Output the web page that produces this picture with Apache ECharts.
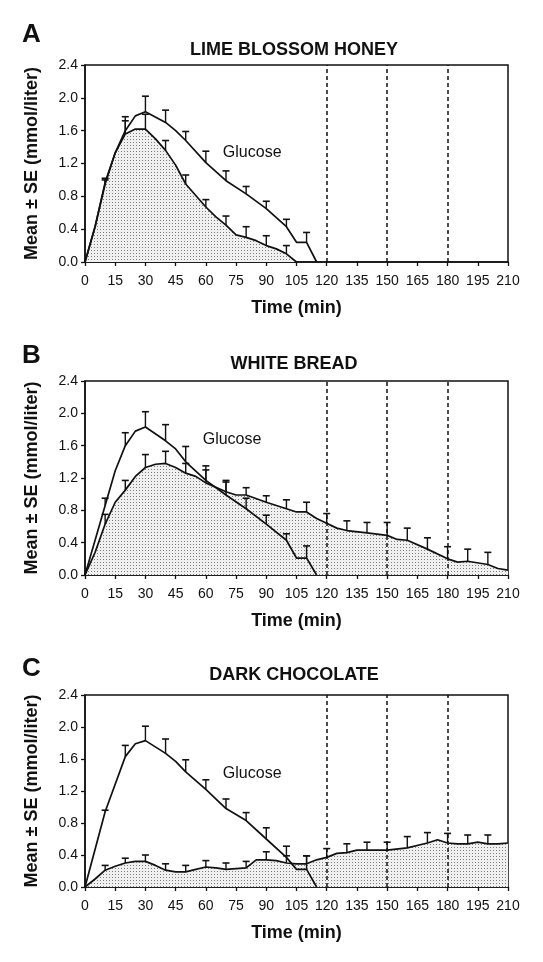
<!DOCTYPE html>
<html>
<head>
<meta charset="utf-8">
<script src="https://cdn.jsdelivr.net/npm/echarts@6/dist/echarts.min.js"></script>
<style>
html,body{margin:0;padding:0;background:#fff;}
#chart{width:543px;height:962px;}
</style>
</head>
<body>
<div id="chart"></div>
<script>
// ---------- DATA ----------
var panelLetters = ['A', 'B', 'C'];
var panelTitles = ['LIME BLOSSOM HONEY', 'WHITE BREAD', 'DARK CHOCOLATE'];
var xTicks = [0, 15, 30, 45, 60, 75, 90, 105, 120, 135, 150, 165, 180, 195, 210];
var yTicks = [0.0, 0.4, 0.8, 1.2, 1.6, 2.0, 2.4];
var dashedTimes = [120, 150, 180];
var errTimesGlucose = [10, 20, 30, 40, 50, 60, 70, 80, 90, 100, 110];

// Panel A - glucose reference
var glucoseA_t = [0, 5, 10, 15, 20, 25, 30, 40, 45, 50, 60, 70, 80, 90, 100, 105, 110, 115];
var glucoseA_v = [0, 0.43, 0.95, 1.33, 1.60, 1.78, 1.83, 1.70, 1.60, 1.48, 1.21, 0.99, 0.83, 0.65, 0.43, 0.24, 0.24, 0];
var glucoseA_upper = [1.00, 1.77, 2.02, 1.85, 1.59, 1.35, 1.11, 0.92, 0.74, 0.52, 0.36];
// Panel A - lime blossom honey
var honey_t = [0, 5, 10, 15, 20, 25, 30, 35, 40, 45, 50, 55, 60, 65, 70, 75, 80, 85, 90, 95, 100, 105];
var honey_v = [0, 0.43, 0.97, 1.33, 1.56, 1.62, 1.62, 1.50, 1.36, 1.18, 0.95, 0.81, 0.67, 0.55, 0.45, 0.33, 0.30, 0.26, 0.20, 0.16, 0.10, 0];
var honeyErr_t = [10, 20, 30, 40, 50, 60, 70, 80, 90, 100];
var honey_upper = [1.02, 1.72, 1.80, 1.48, 1.06, 0.76, 0.56, 0.43, 0.32, 0.20];

// Panel B - glucose reference
var glucoseB_t = [0, 10, 15, 20, 25, 30, 40, 45, 50, 60, 70, 80, 90, 100, 105, 110, 115];
var glucoseB_v = [0, 0.86, 1.29, 1.60, 1.78, 1.83, 1.66, 1.56, 1.40, 1.17, 0.99, 0.82, 0.63, 0.43, 0.21, 0.21, 0];
var glucoseB_upper = [0.95, 1.76, 2.02, 1.86, 1.59, 1.35, 1.15, 0.95, 0.74, 0.51, 0.36];
// Panel B - white bread
var bread_t = [0, 5, 10, 15, 20, 25, 30, 35, 40, 45, 50, 55, 60, 70, 75, 80, 90, 100, 105, 110, 115, 120, 125, 130, 140, 150, 155, 160, 170, 180, 185, 190, 200, 205, 210];
var bread_v = [0, 0.28, 0.63, 0.90, 1.05, 1.22, 1.33, 1.37, 1.38, 1.33, 1.26, 1.22, 1.14, 1.03, 0.99, 0.99, 0.90, 0.82, 0.78, 0.78, 0.70, 0.64, 0.58, 0.55, 0.52, 0.49, 0.44, 0.43, 0.32, 0.20, 0.16, 0.17, 0.13, 0.08, 0.06];
var breadErr_t = [10, 20, 30, 40, 50, 60, 70, 80, 90, 100, 110, 120, 130, 140, 150, 160, 170, 180, 190, 200];
var bread_upper = [0.75, 1.17, 1.49, 1.53, 1.38, 1.30, 1.17, 1.08, 0.98, 0.93, 0.90, 0.76, 0.67, 0.65, 0.65, 0.58, 0.46, 0.35, 0.32, 0.28];

// Panel C - glucose reference
var glucoseC_t = [0, 10, 20, 25, 30, 40, 45, 50, 60, 70, 80, 90, 100, 105, 110, 115];
var glucoseC_v = [0, 0.94, 1.63, 1.79, 1.83, 1.67, 1.57, 1.44, 1.22, 0.98, 0.83, 0.60, 0.37, 0.22, 0.22, 0];
var glucoseC_upper = [0.96, 1.77, 2.01, 1.85, 1.59, 1.34, 1.10, 0.93, 0.74, 0.51, 0.39];
// Panel C - dark chocolate
var choc_t = [0, 5, 10, 15, 20, 25, 30, 35, 40, 45, 50, 55, 60, 65, 70, 75, 80, 85, 90, 95, 100, 105, 110, 115, 120, 125, 130, 135, 140, 150, 160, 170, 175, 180, 185, 190, 195, 200, 205, 210];
var choc_v = [0, 0.10, 0.21, 0.26, 0.30, 0.32, 0.32, 0.27, 0.21, 0.19, 0.19, 0.22, 0.25, 0.24, 0.22, 0.23, 0.24, 0.34, 0.34, 0.33, 0.30, 0.29, 0.29, 0.34, 0.37, 0.42, 0.43, 0.46, 0.46, 0.46, 0.49, 0.55, 0.59, 0.55, 0.54, 0.54, 0.56, 0.54, 0.54, 0.55];
var chocErr_t = [10, 20, 30, 40, 50, 60, 70, 80, 90, 100, 110, 120, 130, 140, 150, 160, 170, 180, 190, 200];
var choc_upper = [0.27, 0.36, 0.40, 0.29, 0.27, 0.33, 0.30, 0.32, 0.44, 0.39, 0.39, 0.48, 0.54, 0.56, 0.56, 0.63, 0.68, 0.67, 0.65, 0.65];

var glucoseLabelPos = [[83, 1.33], [73, 1.67], [83, 1.42]];

// ---------- BUILD ----------
var FONT = '"Liberation Sans", Arial, Helvetica, sans-serif';
var chart = echarts.init(document.getElementById('chart'), null, {renderer: 'canvas'});

function makePattern() {
  var c = document.createElement('canvas');
  c.width = 3; c.height = 3;
  var g = c.getContext('2d');
  g.fillStyle = '#f0f0f0';
  g.fillRect(0, 0, 3, 3);
  g.fillStyle = '#7d7d7d';
  g.fillRect(1, 1, 1, 1);
  return c;
}
var pattern = {image: makePattern(), repeat: 'repeat'};

function zip(t, v) { return t.map(function (x, i) { return [x, v[i]]; }); }
function errData(t, v, et, up) {
  return et.map(function (x, i) {
    var idx = t.indexOf(x);
    return [x, v[idx], up[i]];
  });
}

var grids = [
  {left: 85, top: 65, width: 423, height: 197},
  {left: 85, top: 381, width: 423, height: 194},
  {left: 85, top: 695, width: 423, height: 192}
];
var letterY = [35, 356, 669];
var titleY = [50, 364, 675];

var panels = [
  {gt: glucoseA_t, gv: glucoseA_v, gu: glucoseA_upper, ft: honey_t, fv: honey_v, fet: honeyErr_t, fu: honey_upper},
  {gt: glucoseB_t, gv: glucoseB_v, gu: glucoseB_upper, ft: bread_t, fv: bread_v, fet: breadErr_t, fu: bread_upper},
  {gt: glucoseC_t, gv: glucoseC_v, gu: glucoseC_upper, ft: choc_t, fv: choc_v, fet: chocErr_t, fu: choc_upper}
];

function renderErr(params, api) {
  var x = api.value(0), m = api.value(1), u = api.value(2);
  var p0 = api.coord([x, m]);
  var p1 = api.coord([x, u]);
  return {
    type: 'group',
    children: [
      {type: 'line', shape: {x1: p0[0], y1: p0[1], x2: p1[0], y2: p1[1]}, style: {stroke: '#111', lineWidth: 1.4}},
      {type: 'line', shape: {x1: p1[0] - 3.5, y1: p1[1], x2: p1[0] + 3.5, y2: p1[1]}, style: {stroke: '#111', lineWidth: 1.6}}
    ]
  };
}

var option = {
  backgroundColor: '#ffffff',
  animation: false,
  textStyle: {fontFamily: FONT},
  grid: grids.map(function (g) { return Object.assign({show: true, borderColor: '#111', borderWidth: 1.5, backgroundColor: 'transparent'}, g); }),
  xAxis: [],
  yAxis: [],
  series: [],
  graphic: []
};

for (var i = 0; i < 3; i++) {
  option.xAxis.push({
    type: 'value', gridIndex: i, min: 0, max: 210, interval: 15,
    name: 'Time (min)', nameLocation: 'middle', nameGap: 37,
    nameTextStyle: {fontFamily: FONT, fontWeight: 'bold', fontSize: 18, color: '#111'},
    axisLine: {show: true, onZero: false, lineStyle: {color: '#111', width: 1.5}},
    axisTick: {show: true, inside: false, length: 4, lineStyle: {color: '#111', width: 1.3}},
    axisLabel: {color: '#111', fontSize: 14, fontFamily: FONT, margin: 12, showMinLabel: true, showMaxLabel: true},
    splitLine: {show: false}
  });
  option.yAxis.push({
    type: 'value', gridIndex: i, min: 0, max: 2.4, interval: 0.4,
    name: 'Mean \u00b1 SE (mmol/liter)', nameLocation: 'middle', nameGap: 44,
    nameTextStyle: {fontFamily: FONT, fontWeight: 'bold', fontSize: 18, color: '#111'},
    axisLine: {show: true, onZero: false, lineStyle: {color: '#111', width: 1.5}},
    axisTick: {show: true, inside: false, length: 4, lineStyle: {color: '#111', width: 1.3}},
    axisLabel: {color: '#111', fontSize: 14, fontFamily: FONT, margin: 7, formatter: function (v) { return v.toFixed(1); }},
    splitLine: {show: false}
  });

  var p = panels[i];
  option.series.push({
    type: 'line', xAxisIndex: i, yAxisIndex: i, z: 2,
    data: zip(p.ft, p.fv), showSymbol: false, symbol: 'none',
    lineStyle: {color: '#111', width: 1.7},
    areaStyle: {color: pattern, opacity: 1}
  });
  option.series.push({
    type: 'line', xAxisIndex: i, yAxisIndex: i, z: 3,
    data: zip(p.gt, p.gv), showSymbol: false, symbol: 'none',
    lineStyle: {color: '#111', width: 1.7},
    markPoint: {
      symbol: 'circle', symbolSize: 0, silent: true,
      data: [{coord: glucoseLabelPos[i], value: 'Glucose'}],
      label: {show: true, position: 'inside', formatter: 'Glucose', color: '#111', fontSize: 16, fontFamily: FONT}
    },
    markLine: {
      silent: true, symbol: 'none', label: {show: false},
      lineStyle: {color: '#111', type: [4, 3], width: 1.5},
      data: dashedTimes.map(function (t) { return {xAxis: t}; })
    }
  });
  option.series.push({
    type: 'custom', xAxisIndex: i, yAxisIndex: i, z: 4,
    renderItem: renderErr, data: errData(p.gt, p.gv, errTimesGlucose, p.gu)
  });
  option.series.push({
    type: 'custom', xAxisIndex: i, yAxisIndex: i, z: 4,
    renderItem: renderErr, data: errData(p.ft, p.fv, p.fet, p.fu)
  });

  option.graphic.push({
    type: 'text', left: 22, top: letterY[i] - 13,
    style: {text: panelLetters[i], font: 'bold 26px ' + FONT, fill: '#111'}
  });
  option.graphic.push({
    type: 'text', x: 294, y: titleY[i],
    style: {text: panelTitles[i], font: 'bold 18px ' + FONT, fill: '#111', textAlign: 'center', textVerticalAlign: 'middle'}
  });
}

chart.setOption(option);
</script>
</body>
</html>
